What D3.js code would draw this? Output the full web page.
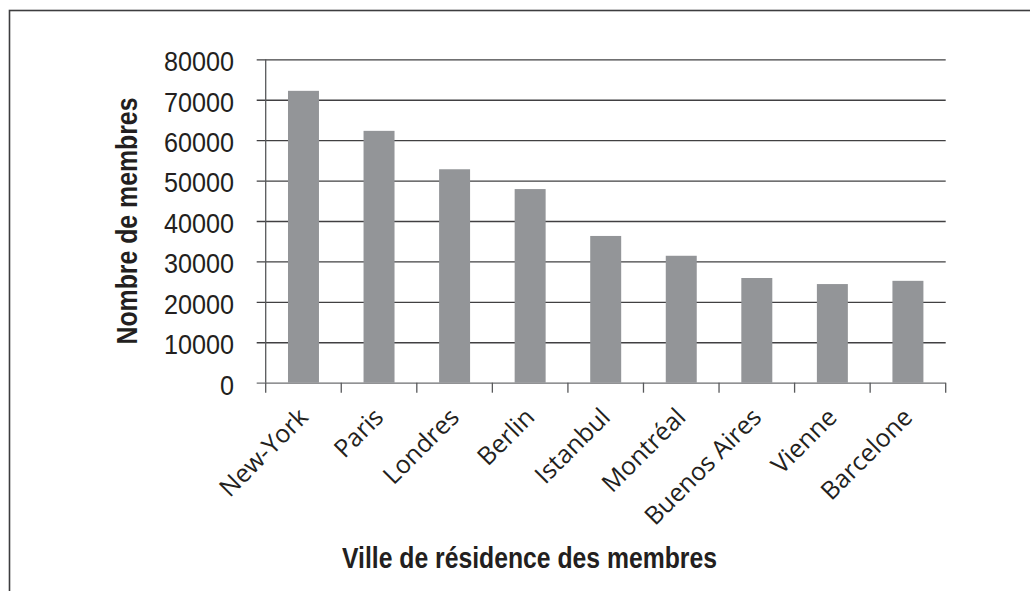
<!DOCTYPE html>
<html>
<head>
<meta charset="utf-8">
<script src="https://cdn.jsdelivr.net/npm/d3@7"></script>
<style>
  html, body { margin: 0; padding: 0; background: #fff; }
  svg { display: block; }
</style>
</head>
<body>
<div id="chart"></div>
<script>
// data
const cities = ['New-York', 'Paris', 'Londres', 'Berlin', 'Istanbul', 'Montréal', 'Buenos Aires', 'Vienne', 'Barcelone'];
const members = [72200, 62300, 52800, 47900, 36300, 31400, 25900, 24400, 25200];
const yTicks = [0, 10000, 20000, 30000, 40000, 50000, 60000, 70000, 80000];

const width = 1030, height = 591;
const plot = { left: 265.7, right: 945.7, top: 59.3, bottom: 382.7 };
const ink = '#231f20';

const svg = d3.select('#chart').append('svg')
	.attr('width', width)
	.attr('height', height);

// outer frame (runs off the right and bottom edges)
svg.append('rect')
	.attr('x', 9.5).attr('y', 10.5)
	.attr('width', 1200).attr('height', 800)
	.attr('fill', 'none')
	.attr('stroke', '#3d3d3f')
	.attr('stroke-width', 1.6);

const x = d3.scaleBand()
	.domain(cities)
	.range([plot.left, plot.right])
	.paddingInner(0.59)
	.paddingOuter(0.295);

const y = d3.scaleLinear()
	.domain([0, 80000])
	.range([plot.bottom, plot.top]);

// gridlines with their little ticks on the left
const grid = svg.append('g').attr('class', 'grid')
	.attr('transform', 'translate(' + plot.left + ',0)')
	.call(d3.axisLeft(y).tickValues(yTicks).tickSize(-(plot.right - plot.left)).tickFormat(''));
grid.select('.domain').remove();
grid.selectAll('.tick line')
	.attr('x1', -9)
	.attr('stroke', d => d === 0 ? '#6d6e71' : '#414042')
	.attr('stroke-width', 1.3);

// y tick labels
svg.append('g').attr('class', 'ylabels')
	.selectAll('text')
	.data(yTicks)
	.enter().append('text')
	.attr('transform', d => 'translate(234,' + (y(d) + 2) + ') scale(0.9,1)')
	.attr('text-anchor', 'end')
	.attr('dy', '0.35em')
	.attr('font-family', 'Liberation Sans, Arial, sans-serif')
	.attr('font-size', 28)
	.attr('fill', ink)
	.text(d => d);

// bars
svg.append('g').attr('class', 'bars')
	.selectAll('rect')
	.data(cities)
	.enter().append('rect')
	.attr('x', d => x(d))
	.attr('y', (d, i) => y(members[i]))
	.attr('width', x.bandwidth())
	.attr('height', (d, i) => y(0) - y(members[i]))
	.attr('fill', '#939598');

// y axis line
svg.append('line')
	.attr('x1', plot.left).attr('x2', plot.left)
	.attr('y1', plot.top).attr('y2', plot.bottom)
	.attr('stroke', '#58595b')
	.attr('stroke-width', 1.3);

// x axis ticks sit on the band edges
const edges = cities.map(c => x(c) - x.step() * x.paddingOuter()).concat([plot.right]);
svg.append('g').attr('class', 'xticks')
	.selectAll('line')
	.data(edges)
	.enter().append('line')
	.attr('x1', d => d).attr('x2', d => d)
	.attr('y1', plot.bottom).attr('y2', plot.bottom + 10)
	.attr('stroke', '#58595b')
	.attr('stroke-width', 1.3);

// category labels, rotated
svg.append('g').attr('class', 'xlabels')
	.selectAll('text')
	.data(cities)
	.enter().append('text')
	.attr('transform', d => 'translate(' + (x(d) + x.bandwidth() / 2 + 6) + ',' + (plot.bottom + 36) + ') rotate(-45)')
	.attr('text-anchor', 'end')
	.attr('font-family', 'Open Sans, sans-serif')
	.attr('font-size', 25)
	.attr('fill', ink)
	.text(d => d);

// axis titles
svg.append('text')
	.attr('x', 342).attr('y', 568)
	.attr('textLength', 375)
	.attr('lengthAdjust', 'spacingAndGlyphs')
	.attr('font-family', 'Liberation Sans Narrow, Liberation Sans, Arial, sans-serif')
	.attr('font-weight', 'bold')
	.attr('font-size', 29)
	.attr('fill', ink)
	.text('Ville de résidence des membres');

svg.append('text')
	.attr('transform', 'translate(137,' + ((plot.top + plot.bottom) / 2) + ') rotate(-90)')
	.attr('text-anchor', 'middle')
	.attr('textLength', 247)
	.attr('lengthAdjust', 'spacingAndGlyphs')
	.attr('font-family', 'Liberation Sans Narrow, Liberation Sans, Arial, sans-serif')
	.attr('font-weight', 'bold')
	.attr('font-size', 29)
	.attr('fill', ink)
	.text('Nombre de membres');
</script>
</body>
</html>
